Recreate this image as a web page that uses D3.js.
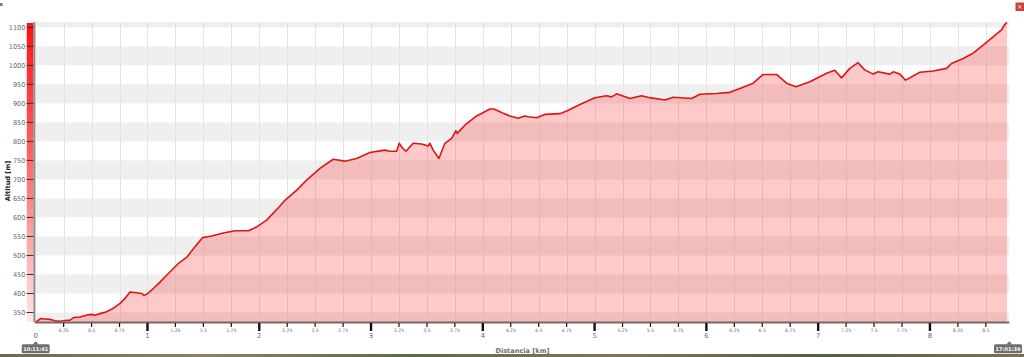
<!DOCTYPE html>
<html>
<head>
<meta charset="utf-8">
<title>Perfil de altitud</title>
<style>
  body { margin: 0; background: #fff; overflow: hidden; }
  svg { display: block; font-family: "DejaVu Sans", Verdana, sans-serif; }
</style>
</head>
<body>
<svg id="chart" width="1024" height="357"></svg>
<script src="https://d3js.org/d3.v7.min.js"></script>
<script>
// profile: distance (km) and altitude (m)
const distKm = [0, 0.045, 0.083, 0.128, 0.172, 0.217, 0.262, 0.307, 0.343, 0.396, 0.456, 0.501, 0.530, 0.575,
  0.635, 0.694, 0.754, 0.799, 0.843, 0.903, 0.948, 0.969, 0.993, 1.052, 1.112, 1.172, 1.276, 1.351, 1.425,
  1.494, 1.574, 1.678, 1.783, 1.902, 1.977, 2.066, 2.179, 2.230, 2.335, 2.424, 2.543, 2.662, 2.767, 2.871,
  2.990, 3.079, 3.124, 3.168, 3.229, 3.252, 3.283, 3.312, 3.377, 3.453, 3.512, 3.527, 3.556, 3.607, 3.661,
  3.721, 3.759, 3.771, 3.855, 3.945, 4.064, 4.099, 4.182, 4.242, 4.317, 4.376, 4.406, 4.481, 4.555, 4.689,
  4.750, 4.869, 5.003, 5.107, 5.152, 5.197, 5.316, 5.420, 5.494, 5.629, 5.703, 5.868, 5.942, 6.091, 6.210,
  6.300, 6.419, 6.508, 6.628, 6.717, 6.801, 6.926, 7.075, 7.149, 7.209, 7.283, 7.357, 7.417, 7.492, 7.536,
  7.641, 7.671, 7.731, 7.782, 7.910, 8.029, 8.149, 8.193, 8.297, 8.386, 8.476, 8.565, 8.640, 8.670, 8.690];
const altM = [325, 334, 333, 332, 328, 327, 329, 330, 337, 338, 343, 345, 343, 347,
  352, 361, 374, 387, 404, 402, 400, 395, 398, 413, 430, 448, 479, 495, 523,
  547, 551, 559, 565, 565, 575, 593, 628, 645, 672, 698, 729, 753, 748, 755,
  771, 775, 777, 774, 774, 795, 782, 774, 795, 793, 788, 795, 777, 755, 795,
  808, 828, 821, 847, 867, 885, 885, 874, 867, 861, 867, 865, 862, 871, 873,
  880, 897, 915, 920, 917, 925, 913, 920, 915, 909, 916, 913, 924, 926, 929,
  939, 953, 976, 976, 953, 944, 957, 979, 987, 967, 992, 1007, 988, 977, 983,
  977, 983, 977, 961, 982, 985, 992, 1005, 1018, 1032, 1053, 1075, 1093, 1108, 1113];

const yTicks = [350, 400, 450, 500, 550, 600, 650, 700, 750, 800, 850, 900, 950, 1000, 1050, 1100];
const xTicks = [0, 0.25, 0.5, 0.75, 1, 1.25, 1.5, 1.75, 2, 2.25, 2.5, 2.75, 3, 3.25, 3.5, 3.75, 4, 4.25, 4.5,
  4.75, 5, 5.25, 5.5, 5.75, 6, 6.25, 6.5, 6.75, 7, 7.25, 7.5, 7.75, 8, 8.25, 8.5];
const bandStarts = [300, 400, 500, 600, 700, 800, 900, 1000, 1100];
const timeStart = '10:11:41';
const timeEnd = '17:01:39';
const xTitle = 'Distancia [km]';
const yTitle = 'Altitud [m]';

const pLeft = 35.7, pRight = 1009.3, pTop = 22, pBottom = 322;
const svg = d3.select('#chart');

const x = d3.scaleLinear().domain([0, 8.71]).range([pLeft, pRight]);
const y = d3.scaleLinear().domain([325, 1114]).range([pBottom, pTop]);
const points = distKm.map((d, i) => [d, altM[i]]);

const defs = svg.append('defs');
const grad = defs.append('linearGradient').attr('id', 'bar').attr('x1', 0).attr('y1', 0).attr('x2', 0).attr('y2', 1);
grad.append('stop').attr('offset', 0).attr('stop-color', '#ff1010');
grad.append('stop').attr('offset', 0.5).attr('stop-color', '#fb7070');
grad.append('stop').attr('offset', 1).attr('stop-color', '#ffe8e8');
defs.append('clipPath').attr('id', 'plot')
  .append('rect').attr('x', pLeft).attr('y', pTop).attr('width', pRight - pLeft).attr('height', pBottom - pTop);

const plot = svg.append('g').attr('clip-path', 'url(#plot)');

// grey bands every other 50 m
plot.selectAll('rect.band').data(bandStarts).join('rect')
  .attr('class', 'band')
  .attr('x', pLeft).attr('width', pRight - pLeft)
  .attr('y', d => y(d + 50))
  .attr('height', d => y(d) - y(d + 50))
  .attr('fill', '#efefef');

// vertical grid
plot.selectAll('line.grid').data(xTicks.filter(d => d > 0)).join('line')
  .attr('class', 'grid')
  .attr('x1', d => Math.round(x(d)) + 0.5).attr('x2', d => Math.round(x(d)) + 0.5)
  .attr('y1', pTop).attr('y2', pBottom)
  .attr('stroke', '#e3e3e3');

plot.append('path').datum(points)
  .attr('d', d3.area().x(d => x(d[0])).y0(pBottom).y1(d => y(d[1])))
  .attr('fill', 'rgba(255,0,0,0.21)');

plot.append('path').datum(points)
  .attr('d', d3.line().x(d => x(d[0])).y(d => y(d[1])))
  .attr('fill', 'none')
  .attr('stroke', '#e11414')
  .attr('stroke-width', 1.6)
  .attr('stroke-linejoin', 'round');

// left axis: coloured bar, ticks, labels
svg.append('rect').attr('x', 26.8).attr('y', pTop + 1).attr('width', 6.7).attr('height', pBottom - pTop - 1)
  .attr('fill', 'url(#bar)');
svg.append('line').attr('x1', 34.4).attr('x2', 34.4).attr('y1', pTop).attr('y2', pBottom)
  .attr('stroke', '#8c8c8c').attr('stroke-width', 2);
svg.selectAll('line.ytick').data(yTicks).join('line')
  .attr('class', 'ytick')
  .attr('x1', 26.5).attr('x2', 33.5)
  .attr('y1', d => y(d)).attr('y2', d => y(d))
  .attr('stroke', '#333').attr('stroke-width', 1);
svg.selectAll('text.ylab').data(yTicks).join('text')
  .attr('class', 'ylab')
  .attr('x', 25.5).attr('y', d => y(d) + 2.3)
  .attr('text-anchor', 'end')
  .attr('font-size', 6.6)
  .attr('fill', '#6a6a6a')
  .text(d => d);
svg.append('text')
  .attr('transform', `translate(9.5,${(pTop + pBottom) / 2 + 9}) rotate(-90)`)
  .attr('text-anchor', 'middle')
  .attr('font-size', 6.6).attr('font-weight', 'bold')
  .attr('fill', '#222')
  .text(yTitle);

// bottom axis
svg.append('line').attr('x1', pLeft - 1).attr('x2', pRight).attr('y1', pBottom + 0.5).attr('y2', pBottom + 0.5)
  .attr('stroke', '#7a6464').attr('stroke-width', 2);
const isMajor = d => Number.isInteger(d);
svg.selectAll('line.xtick').data(xTicks.filter(d => d > 0)).join('line')
  .attr('class', 'xtick')
  .attr('x1', d => x(d)).attr('x2', d => x(d))
  .attr('y1', pBottom + 1).attr('y2', d => isMajor(d) ? pBottom + 9 : pBottom + 5)
  .attr('stroke', '#111')
  .attr('stroke-width', d => isMajor(d) ? 2.4 : 1.2);
svg.selectAll('text.xlab').data(xTicks).join('text')
  .attr('class', 'xlab')
  .attr('x', d => x(d))
  .attr('y', d => isMajor(d) ? pBottom + 16 : pBottom + 10)
  .attr('text-anchor', 'middle')
  .attr('font-size', d => isMajor(d) ? 6.8 : 4.6)
  .attr('fill', '#6a6a6a')
  .text(d => d);
svg.append('text')
  .attr('x', (pLeft + pRight) / 2).attr('y', 352.5)
  .attr('text-anchor', 'middle')
  .attr('font-size', 6.6).attr('font-weight', 'bold')
  .attr('fill', '#6e6e6e')
  .text(xTitle);

// time flags at both ends
[[0, timeStart], [8.71, timeEnd]].forEach(([d, t]) => {
  const cx = x(d);
  const bx = Math.min(cx - 14, 1024 - 30);
  const g = svg.append('g');
  g.append('path')
    .attr('d', `M${cx - 3},344.5 L${cx},341.2 L${cx + 3},344.5 Z`)
    .attr('fill', '#6e6e6e');
  g.append('rect').attr('x', bx).attr('y', 344.2).attr('width', 28).attr('height', 9)
    .attr('rx', 1.5).attr('fill', '#6e6e6e');
  g.append('text').attr('x', bx + 14).attr('y', 350.7)
    .attr('text-anchor', 'middle')
    .attr('font-size', 5).attr('font-weight', 'bold')
    .attr('fill', '#fff')
    .text(t);
});

// small window bits: corner mark, close box, photo strip at the bottom
svg.append('rect').attr('x', 0).attr('y', 3).attr('width', 2.5).attr('height', 3).attr('fill', '#777');
svg.append('rect').attr('x', 1015.5).attr('y', 2.5).attr('width', 8.5).attr('height', 8.5).attr('fill', '#c9403c');
svg.append('text').attr('x', 1019.8).attr('y', 9.2).attr('text-anchor', 'middle')
  .attr('font-size', 6.5).attr('fill', '#fff').text('×');
const strip = defs.append('linearGradient').attr('id', 'strip');
[['0', '#6c6a4c'], ['0.2', '#8a8462'], ['0.4', '#5f6a44'], ['0.6', '#7e7656'], ['0.8', '#57603e'], ['1', '#7a7252']]
  .forEach(([o, c]) => strip.append('stop').attr('offset', o).attr('stop-color', c));
svg.append('rect').attr('x', 0).attr('y', 354).attr('width', 1024).attr('height', 3).attr('fill', 'url(#strip)');
</script>
</body>
</html>
